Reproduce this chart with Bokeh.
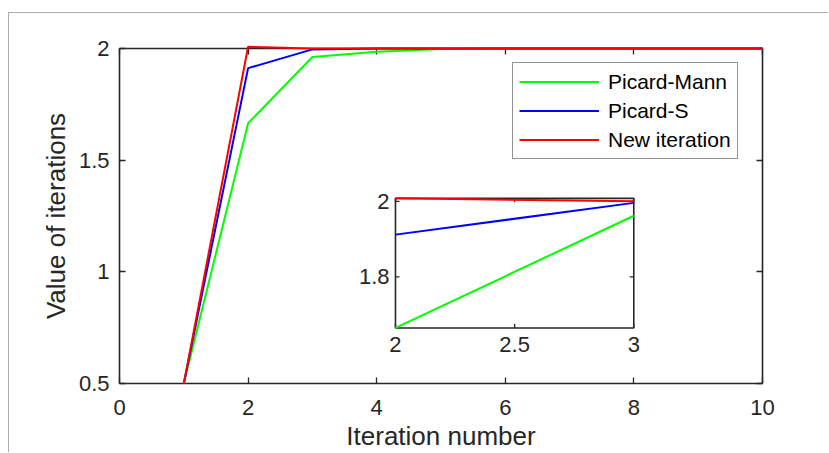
from bokeh.plotting import figure
from bokeh.models import Range1d, LinearAxis, FixedTicker
from bokeh.core.properties import value
from bokeh.embed import file_html
from bokeh.resources import INLINE

# ---------------- data ----------------
ITER = [1, 2, 3, 4, 5, 6, 7, 8, 9, 10]
PICARD_MANN = [0.5, 1.665, 1.962, 1.985, 1.998, 2.0, 2.0, 2.0, 2.0, 2.0]
PICARD_S = [0.5, 1.912, 1.996, 2.0, 2.0, 2.0, 2.0, 2.0, 2.0, 2.0]
NEW_ITERATION = [0.5, 2.008, 2.0, 2.0, 2.0, 2.0, 2.0, 2.0, 2.0, 2.0]
SERIES_NAMES = ["Picard-Mann", "Picard-S", "New iteration"]
X_TITLE = "Iteration number"
Y_TITLE = "Value of iterations"

X_TICKS = [0, 2, 4, 6, 8, 10]
X_TICK_LABELS = ["0", "2", "4", "6", "8", "10"]
Y_TICKS = [0.5, 1, 1.5, 2]
Y_TICK_LABELS = ["0.5", "1", "1.5", "2"]

INSET_XLIM = (2, 3)
INSET_X_TICKS = [2, 2.5, 3]
INSET_X_TICK_LABELS = ["2", "2.5", "3"]
INSET_Y_TICKS = [1.8, 2]
INSET_Y_TICK_LABELS = ["1.8", "2"]

# ---------------- style / layout ----------------
FONT = "Liberation Sans"
AX = "#262626"
COLORS = ["#00ff00", "#0000ff", "#ff0000"]
W, H = 820, 440
ML, MR, MT, MB = 110, 67, 35, 69
FW, FH = W - ML - MR, H - MT - MB
# inset box as fractions of the main frame (left, right, bottom, top)
IB_L, IB_R, IB_B, IB_T = 0.4292, 0.7998, 0.1658, 0.5527

p = figure(width=W, height=H, output_backend="svg", toolbar_location=None,
           x_range=Range1d(0, 10), y_range=Range1d(0.5, 2),
           min_border_left=ML, min_border_right=MR, min_border_top=MT,
           min_border_bottom=MB, x_axis_label=X_TITLE, y_axis_label=Y_TITLE)
p.styles = {"margin-top": "12px", "margin-left": "8px",
            "border-top": "1px solid #acacac",
            "border-left": "1px solid #acacac"}
p.background_fill_color = "white"
p.border_fill_color = "white"
p.outline_line_color = None
p.grid.visible = False

p.xaxis.ticker = FixedTicker(ticks=X_TICKS)
p.xaxis.major_label_overrides = {t: l for t, l in zip(X_TICKS, X_TICK_LABELS)}
p.yaxis.ticker = FixedTicker(ticks=Y_TICKS)
p.yaxis.major_label_overrides = {t: l for t, l in zip(Y_TICKS, Y_TICK_LABELS)}

for ax in (p.xaxis, p.yaxis):
    ax.axis_line_color = AX
    ax.axis_line_width = 1.6
    ax.major_tick_line_color = AX
    ax.major_tick_line_width = 1.3
    ax.major_tick_in = 6
    ax.major_tick_out = 0
    ax.minor_tick_line_color = None
    ax.major_label_text_font = FONT
    ax.major_label_text_font_size = "22px"
    ax.major_label_text_color = AX
    ax.axis_label_text_font = FONT
    ax.axis_label_text_font_size = "26px"
    ax.axis_label_text_font_style = "normal"
    ax.axis_label_text_color = AX
p.xaxis.major_label_standoff = 16
p.xaxis.axis_label_standoff = 3
p.yaxis.major_label_standoff = 10
p.yaxis.axis_label_standoff = 5

# mirrored box axes (top and right), tick marks only
for loc, ticks in (("above", X_TICKS), ("right", Y_TICKS)):
    ax = LinearAxis(ticker=FixedTicker(ticks=ticks))
    ax.axis_line_color = AX
    ax.axis_line_width = 1.6
    ax.major_tick_line_color = AX
    ax.major_tick_line_width = 1.3
    ax.major_tick_in = 6
    ax.major_tick_out = 0
    ax.minor_tick_line_color = None
    ax.major_label_text_font_size = "10px"
    ax.major_label_text_color = None
    ax.major_label_text_alpha = 0
    ax.major_label_standoff = 0
    p.add_layout(ax, loc)

series = [PICARD_MANN, PICARD_S, NEW_ITERATION]
for ys, c, name in zip(series, COLORS, SERIES_NAMES):
    r = p.line(ITER, ys, line_color=c, line_width=2, legend_label=name)
    r.level = "overlay"

lg = p.legend[0]
lg.location = (393, 224)
lg.border_line_color = AX
lg.border_line_width = 1
lg.background_fill_color = "white"
lg.background_fill_alpha = 1
lg.label_text_font = FONT
lg.label_text_font_size = "21px"
lg.label_text_color = "#000000"
lg.glyph_width = 80
lg.glyph_height = 25
lg.label_height = 25
lg.label_standoff = 9
lg.spacing = 4
lg.padding = 6
lg.margin = 0

# ---------------- inset (drawn through extra ranges) ----------------
ix0, ix1 = INSET_XLIM
in_vals = [v for ys in series for x, v in zip(ITER, ys) if ix0 <= x <= ix1]
iy0, iy1 = min(in_vals), max(in_vals)
sx = (ix1 - ix0) / (IB_R - IB_L)
sy = (iy1 - iy0) / (IB_T - IB_B)
p.extra_x_ranges = {"ix": Range1d(ix0 - IB_L * sx, ix0 - IB_L * sx + sx)}
p.extra_y_ranges = {"iy": Range1d(iy0 - IB_B * sy, iy0 - IB_B * sy + sy)}
kw = dict(x_range_name="ix", y_range_name="iy")

p.quad(left=[ix0], right=[ix1], bottom=[iy0], top=[iy1], fill_color="white",
       line_color=AX, line_width=1.6, **kw)

px_x = FW * (IB_R - IB_L) / (ix1 - ix0)
px_y = FH * (IB_T - IB_B) / (iy1 - iy0)
tl = 4
dx, dy = tl / px_x, tl / px_y
seg_x0, seg_y0, seg_x1, seg_y1 = [], [], [], []
for t in INSET_X_TICKS:
    seg_x0 += [t, t]; seg_x1 += [t, t]
    seg_y0 += [iy0, iy1]; seg_y1 += [iy0 + dy, iy1 - dy]
for t in INSET_Y_TICKS:
    seg_y0 += [t, t]; seg_y1 += [t, t]
    seg_x0 += [ix0, ix1]; seg_x1 += [ix0 + dx, ix1 - dx]
p.segment(seg_x0, seg_y0, seg_x1, seg_y1, line_color=AX, line_width=1.3, **kw)

for ys, c in zip(series, COLORS):
    xs_in = [x for x in ITER if ix0 <= x <= ix1]
    ys_in = [v for x, v in zip(ITER, ys) if ix0 <= x <= ix1]
    p.line(xs_in, ys_in, line_color=c, line_width=2, **kw)

p.text(x=INSET_X_TICKS, y=[iy0] * len(INSET_X_TICKS), text=INSET_X_TICK_LABELS,
       text_font=value(FONT), text_font_size="22px", text_color=AX,
       text_align="center", text_baseline="top", y_offset=9, **kw)
p.text(x=[ix0] * len(INSET_Y_TICKS), y=INSET_Y_TICKS, text=INSET_Y_TICK_LABELS,
       text_font=value(FONT), text_font_size="22px", text_color=AX,
       text_align="right", text_baseline="middle", x_offset=-6, **kw)

open("out.html", "w").write(file_html(p, INLINE))
